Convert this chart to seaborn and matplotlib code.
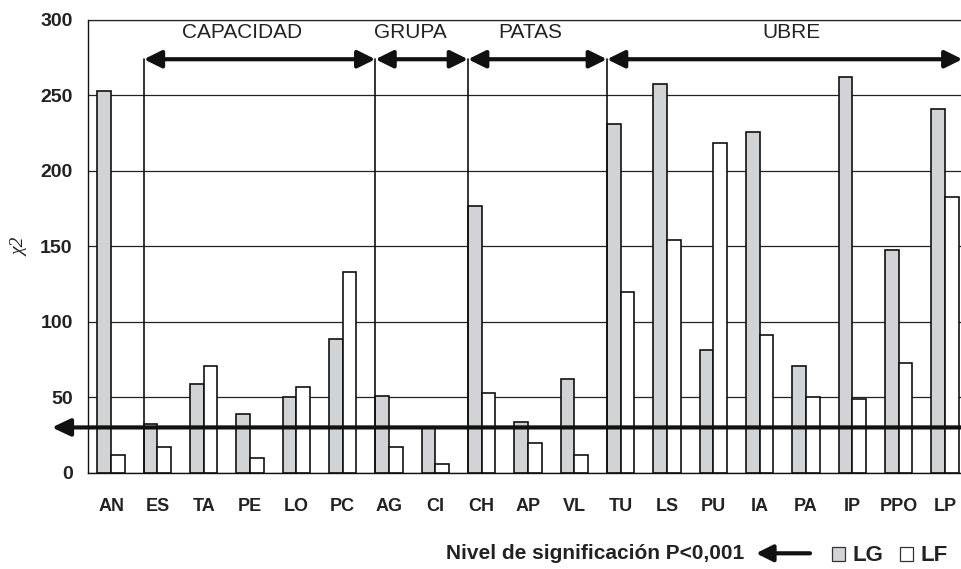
import numpy as np
import pandas as pd
import matplotlib
matplotlib.use("Agg")
import matplotlib.pyplot as plt
from matplotlib.patches import Rectangle
import seaborn as sns

# Chi-square values per trait for the two lines
caracteres = ["AN", "ES", "TA", "PE", "LO", "PC", "AG", "CI", "CH", "AP",
              "VL", "TU", "LS", "PU", "IA", "PA", "IP", "PPO", "LP"]
chi2_lg = [253, 32, 59, 39, 50, 88.5, 51, 30.5, 177, 33.5,
           62, 231, 257.5, 81, 226, 71, 262, 147.5, 241]
chi2_lf = [12, 17, 71, 10, 57, 133, 17, 6, 53, 20,
           12, 120, 154, 218.5, 91.5, 50, 49, 72.5, 183]
series = ["LG", "LF"]
umbral = 30  # significance threshold, P<0,001

# Trait groups and the first trait of each group
grupos = ["CAPACIDAD", "GRUPA", "PATAS", "UBRE"]
grupo_inicio = ["ES", "AG", "CH", "TU"]

y_ticks = [0, 50, 100, 150, 200, 250, 300]

df = pd.DataFrame({
    "caracter": caracteres * 2,
    "linea": [series[0]] * len(caracteres) + [series[1]] * len(caracteres),
    "chi2": chi2_lg + chi2_lf,
})

sns.set_style("white")
plt.rcParams["font.family"] = ["Liberation Sans", "DejaVu Sans"]

W, H = 962, 569
fig = plt.figure(figsize=(W / 100, H / 100), dpi=100)
ax = fig.add_axes([88 / W, (H - 472.7) / H, 880 / W, (472.7 - 20) / H])

colores = {"LG": "#d2d3d5", "LF": "#ffffff"}
BAR_W = 0.59
sns.barplot(data=df, x="caracter", y="chi2", hue="linea", order=caracteres,
            hue_order=series, palette=colores, edgecolor="#111111",
            linewidth=1.2, width=BAR_W, gap=0, legend=False, ax=ax, zorder=2)

ax.set_xlim(-0.5, len(caracteres) - 0.5)
ax.set_ylim(0, 300)
ax.set_xlabel("")
ax.set_ylabel("")

# grid and frame
ax.set_axisbelow(True)
ax.set_yticks(y_ticks)
ax.yaxis.grid(True, color="#222222", linewidth=0.9)
ax.axhline(300, color="#222222", linewidth=0.9, clip_on=False, zorder=1)
for s in ["top", "right"]:
    ax.spines[s].set_visible(False)
for s in ["left", "bottom"]:
    ax.spines[s].set_color("#111111")
    ax.spines[s].set_linewidth(1.0)

ax.tick_params(axis="y", which="major", direction="out", length=6, width=1,
               color="#111111", pad=5, labelsize=14)
ax.tick_params(axis="x", which="major", length=0, pad=18, labelsize=13)
ax.set_xticks(np.arange(-0.5, len(caracteres), 1), minor=True)
ax.tick_params(axis="x", which="minor", direction="out", length=4.5, width=1,
               color="#111111")
for lab in ax.get_xticklabels() + ax.get_yticklabels():
    lab.set_fontweight("bold")
    lab.set_color("#222222")

# group separators and double-headed span arrows
Y_FLECHA = 274
bordes = [caracteres.index(c) - BAR_W / 2 for c in grupo_inicio]
for xb in bordes:
    ax.plot([xb, xb], [0, Y_FLECHA], color="#111111", lw=1.2, zorder=3)
fines = bordes[1:] + [18.38]
for x0, x1 in zip(bordes, fines):
    ax.annotate("", xy=(x1, Y_FLECHA), xytext=(x0, Y_FLECHA),
                arrowprops=dict(arrowstyle="<|-|>,head_length=1.05,head_width=0.52",
                                mutation_scale=10, lw=3, color="#111111",
                                shrinkA=0, shrinkB=0),
                annotation_clip=False, zorder=4)

texto_x = [2.82, 6.47, 9.05, 14.68]
for g, tx in zip(grupos, texto_x):
    ax.text(tx, 292, g, ha="center", va="center", fontsize=15, color="#222222")

# threshold line with arrow pointing out to the left
ax.annotate("", xy=(-1.28, umbral), xytext=(18.5, umbral),
            arrowprops=dict(arrowstyle="-|>,head_length=1.1,head_width=0.52",
                            mutation_scale=10, lw=3, color="#111111",
                            shrinkA=0, shrinkB=0),
            annotation_clip=False, zorder=5)

# y axis label
fig.text(20 / W, 1 - 247 / H, "χ2", rotation=90, fontsize=14,
         family=["Liberation Serif", "DejaVu Serif"], style="italic",
         ha="center", va="center", color="#222222")

# key at the bottom
fig.text(446 / W, 1 - 559 / H, "Nivel de significación P<0,001", fontsize=15,
         fontweight="bold", ha="left", va="baseline", color="#222222")
fig.add_artist(matplotlib.patches.FancyArrowPatch(
    (810 / W, 1 - 553.3 / H), (756 / W, 1 - 553.3 / H),
    transform=fig.transFigure,
    arrowstyle="-|>,head_length=1.0,head_width=0.5", mutation_scale=10,
    lw=3, color="#111111", shrinkA=0, shrinkB=0))
for xs, xt, nombre in [(831.7, 853, "LG"), (900, 920.7, "LF")]:
    fig.add_artist(Rectangle((xs / W, 1 - 560.7 / H), 13.3 / W, 13.4 / H,
                             transform=fig.transFigure,
                             facecolor=colores[nombre], edgecolor="#333333",
                             lw=0.9))
    fig.text(xt / W, 1 - 561 / H, nombre, fontsize=16, fontweight="bold",
             ha="left", va="baseline", color="#222222")

fig.savefig("out.png", dpi=100, facecolor="white")
